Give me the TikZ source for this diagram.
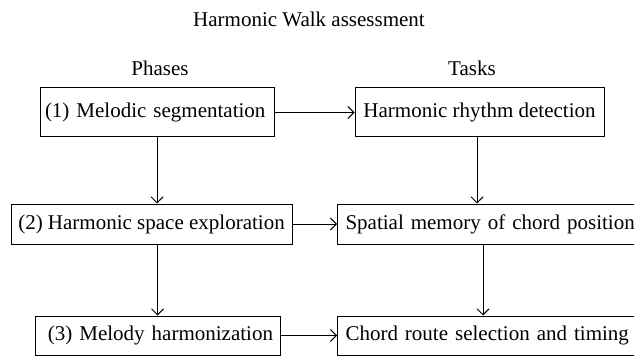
\documentclass[tikz,border=0pt]{standalone}
\usepackage{fontspec}
\setmainfont{Liberation Serif}
\usetikzlibrary{arrows.meta}
\begin{document}
\begin{tikzpicture}[x=1pt,y=-1pt,
  every node/.style={font=\fontsize{21}{25}\selectfont, inner sep=0pt},
  box/.style={draw, line width=1pt, minimum height=#1, anchor=center},
  box/.default=49pt,
  conn/.style={line width=1pt, -{Straight Barb[length=6pt,width=12pt,line width=1pt]}}]
\useasboundingbox (0,0) rectangle (634,358);
\node[anchor=base] (title) at (309,27) {Harmonic Walk assessment};
\node[anchor=base] (phases) at (160,76) {Phases};
\node[anchor=base] (tasks) at (472,76) {Tasks};
\node[box=49pt, text width=224pt, align=left, inner xsep=5pt] (p1) at (157,112.5) {(1) Melodic segmentation};
\node[box=49pt, minimum width=249pt] (t1) at (479.5,112.5) {Harmonic rhythm detection};
\node[box=40pt, minimum width=281pt] (p2) at (151.5,224) {(2) Harmonic space exploration};
\node[box=40pt, text width=290pt, align=left, inner xsep=8pt] (t2) at (490.5,224) {Spatial memory of chord position};
\node[box=39pt, text width=231pt, align=right, inner xsep=7pt] (p3) at (157.5,335.5) {(3) Melody harmonization};
\node[box=39pt, text width=290pt, align=left, inner xsep=8pt] (t3) at (490.5,335.5) {Chord route selection and timing};
\coordinate (a1) at (477,137);
\coordinate (a2) at (483,244);
\draw[conn] (p1.east) -- (t1.west);
\draw[conn] (p2.east) -- (t2.west);
\draw[conn] (p3.east) -- (t3.west |- p3.east);
\draw[conn] (p1.south) -- (p1.south |- p2.north);
\draw[conn] (p3.north |- p2.south) -- (p3.north);
\draw[conn] (a1) -- (a1 |- t2.north);
\draw[conn] (a2) -- (a2 |- t3.north);
\end{tikzpicture}
\end{document}
